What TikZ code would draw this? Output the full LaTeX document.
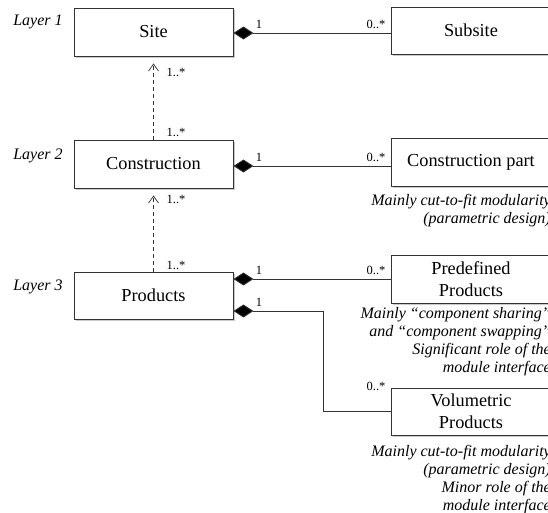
\documentclass[tikz,border=0pt]{standalone}
\usepackage{fontspec}
\setmainfont{Liberation Serif}
\usetikzlibrary{arrows.meta,shadows,calc}
\tikzset{
  box/.style={draw=black!80, line width=0.9pt, fill=white, minimum width=159pt, minimum height=48pt, inner sep=2pt,
    align=center, font=\fontsize{18.3}{22}\selectfont,
    drop shadow={shadow xshift=1.5pt, shadow yshift=-2pt, opacity=0.35, fill=black!60}},
  lyr/.style={font=\itshape\fontsize{16}{18}\selectfont, inner sep=0pt},
  note/.style={font=\itshape\fontsize{16}{18}\selectfont, align=right, inner sep=0pt, anchor=base east},
  mult/.style={font=\fontsize{12.5}{14}\selectfont, inner sep=0pt},
  comp/.style={line width=0.9pt, draw=black!80, {Diamond[length=20pt,width=13pt,fill=black]}-},
  dep/.style={line width=0.7pt, draw=black!80, dashed, dash pattern=on 4pt off 3pt, -{Straight Barb[length=7pt,width=10pt,line width=0.7pt]}, shorten >=7pt}
}
\begin{document}
\begin{tikzpicture}[x=1pt,y=-1pt]
\path[use as bounding box, clip] (0,0) rectangle (548,513);
\node[box] (site) at (153.5,32) {Site};
\node[box, minimum height=47pt] (subsite) at (471,30.5) {Subsite};
\node[box] (constr) at (153.5,164) {Construction};
\node[box] (cpart) at (471,162) {Construction part};
\node[box, minimum height=47pt] (prod) at (153.5,295.5) {Products};
\node[box] (predef) at (471,279) {Predefined\\Products};
\node[box, minimum height=47pt] (vol) at (471,411.5) {Volumetric\\Products};

\node[lyr] (l1) at (38,22) {Layer 1};
\node[lyr] (l2) at (38,156) {Layer 2};
\node[lyr] (l3) at (38,287) {Layer 3};

\coordinate (s1) at ($(site.east)+(0,1)$);
\coordinate (c1) at ($(constr.east)+(0,2)$);
\coordinate (p1) at (prod.east |- predef.west);
\coordinate (p2) at ($(prod.east)+(0,15.5)$);
\coordinate (bend) at (323,311);

\draw[comp] (s1) -- (s1 -| subsite.west);
\draw[comp] (c1) -- (c1 -| cpart.west);
\draw[comp] (p1) -- (predef.west);
\draw[comp] (p2) -- (bend) |- (vol.west);

\draw[dep] (constr.north) -- (site.south);
\draw[dep] (prod.north) -- (constr.south);

\node[mult] (m1) at (259,24) {1};
\node[mult] (m2) at (376,24) {0..*};
\node[mult] (m3) at (259,157) {1};
\node[mult] (m4) at (376,157) {0..*};
\node[mult] (m5) at (259,270) {1};
\node[mult] (m6) at (376,270) {0..*};
\node[mult] (m7) at (259,302) {1};
\node[mult] (m8) at (376,386) {0..*};
\node[mult] (m9) at (176,72) {1..*};
\node[mult] (m10) at (176,132) {1..*};
\node[mult] (m11) at (176,199) {1..*};
\node[mult] (m12) at (176,265) {1..*};

\node[note] (n1) at (551,223) {Mainly cut-to-fit modularity\\(parametric design)};
\node[note] (n2) at (551,372) {Mainly “component sharing”\\and “component swapping”\\Significant role of the\\module interface};
\node[note] (n3) at (551,510) {Mainly cut-to-fit modularity\\(parametric design)\\Minor role of the\\module interface};
\end{tikzpicture}
\end{document}
